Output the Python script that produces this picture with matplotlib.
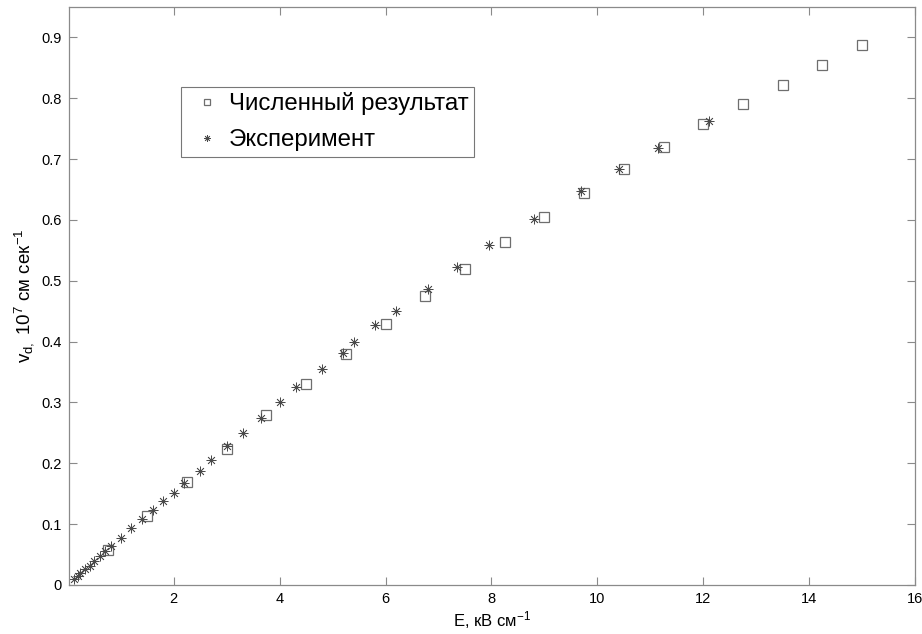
import matplotlib
matplotlib.use("Agg")
import matplotlib.pyplot as plt

plt.rcParams["font.family"] = ["Liberation Sans", "DejaVu Sans"]
plt.rcParams["mathtext.fontset"] = "custom"
plt.rcParams["mathtext.rm"] = "Liberation Sans"
plt.rcParams["mathtext.it"] = "Liberation Sans"

# численный результат (квадраты)
E_calc = [0.75, 1.5, 2.25, 3.0, 3.75, 4.5, 5.25, 6.0, 6.75, 7.5,
          8.25, 9.0, 9.75, 10.5, 11.25, 12.0, 12.75, 13.5, 14.25, 15.0]
v_calc = [0.057, 0.113, 0.169, 0.224, 0.279, 0.330, 0.380, 0.429, 0.475, 0.520,
          0.563, 0.605, 0.645, 0.683, 0.720, 0.757, 0.790, 0.822, 0.855, 0.887]

# эксперимент (звёздочки)
E_exp = [0.12, 0.19, 0.23, 0.33, 0.41, 0.49, 0.60, 0.70, 0.82, 1.0,
         1.2, 1.4, 1.6, 1.8, 2.0, 2.2, 2.5, 2.7, 3.0, 3.3,
         3.65, 4.0, 4.3, 4.8, 5.2, 5.4, 5.8, 6.2, 6.8, 7.35,
         7.95, 8.8, 9.7, 10.4, 11.15, 12.1]
v_exp = [0.010, 0.015, 0.019, 0.027, 0.032, 0.039, 0.048, 0.056, 0.064, 0.077,
         0.093, 0.108, 0.123, 0.138, 0.152, 0.168, 0.188, 0.206, 0.228, 0.250,
         0.275, 0.300, 0.325, 0.355, 0.381, 0.400, 0.427, 0.450, 0.486, 0.522,
         0.559, 0.601, 0.648, 0.683, 0.718, 0.762]

x_ticks = [2, 4, 6, 8, 10, 12, 14, 16]
y_ticks = [0, 0.1, 0.2, 0.3, 0.4, 0.5, 0.6, 0.7, 0.8, 0.9]

fig = plt.figure(figsize=(9.22, 6.34), dpi=100)
ax = fig.add_axes([0.0748, 0.0773, 0.9176, 0.9117])

ax.plot(E_calc, v_calc, ls="none", marker="s", ms=6.5, mfc="none",
        mec="#6e6e6e", mew=0.9, label="Численный результат")
ax.plot(E_exp, v_exp, ls="none", marker=(8, 2, 0), ms=7, mec="#4a4a4a",
        mew=0.55, color="#4a4a4a", label="Эксперимент")

ax.set_xlim(0.02, 16)
ax.set_ylim(0, 0.95)
ax.set_xticks(x_ticks)
ax.set_yticks(y_ticks)
ax.set_xticklabels([str(t) for t in x_ticks])
ax.set_yticklabels(["0"] + [f"{t:.1f}" for t in y_ticks[1:]])

for s in ax.spines.values():
    s.set_color("#8a8a8a")
    s.set_linewidth(0.9)
ax.tick_params(direction="in", length=5.5, width=0.8, color="#8a8a8a",
               top=True, right=True, labelsize=10.5, pad=5)

ax.set_xlabel("E, кВ см$^{-1}$", fontsize=12, labelpad=2)
ax.set_ylabel("v$_{d,}$ 10$^{7}$ см сек$^{-1}$", fontsize=13.5, labelpad=4)

leg = ax.legend(loc="upper left", bbox_to_anchor=(0.1324, 0.8616),
                borderaxespad=0, fontsize=17.3, frameon=True, fancybox=False,
                handlelength=1.7, handletextpad=0.05, borderpad=0.23,
                labelspacing=0.58, markerscale=0.7)
leg.get_frame().set_edgecolor("#555555")
leg.get_frame().set_linewidth(0.8)

fig.savefig("out.png", dpi=100)
